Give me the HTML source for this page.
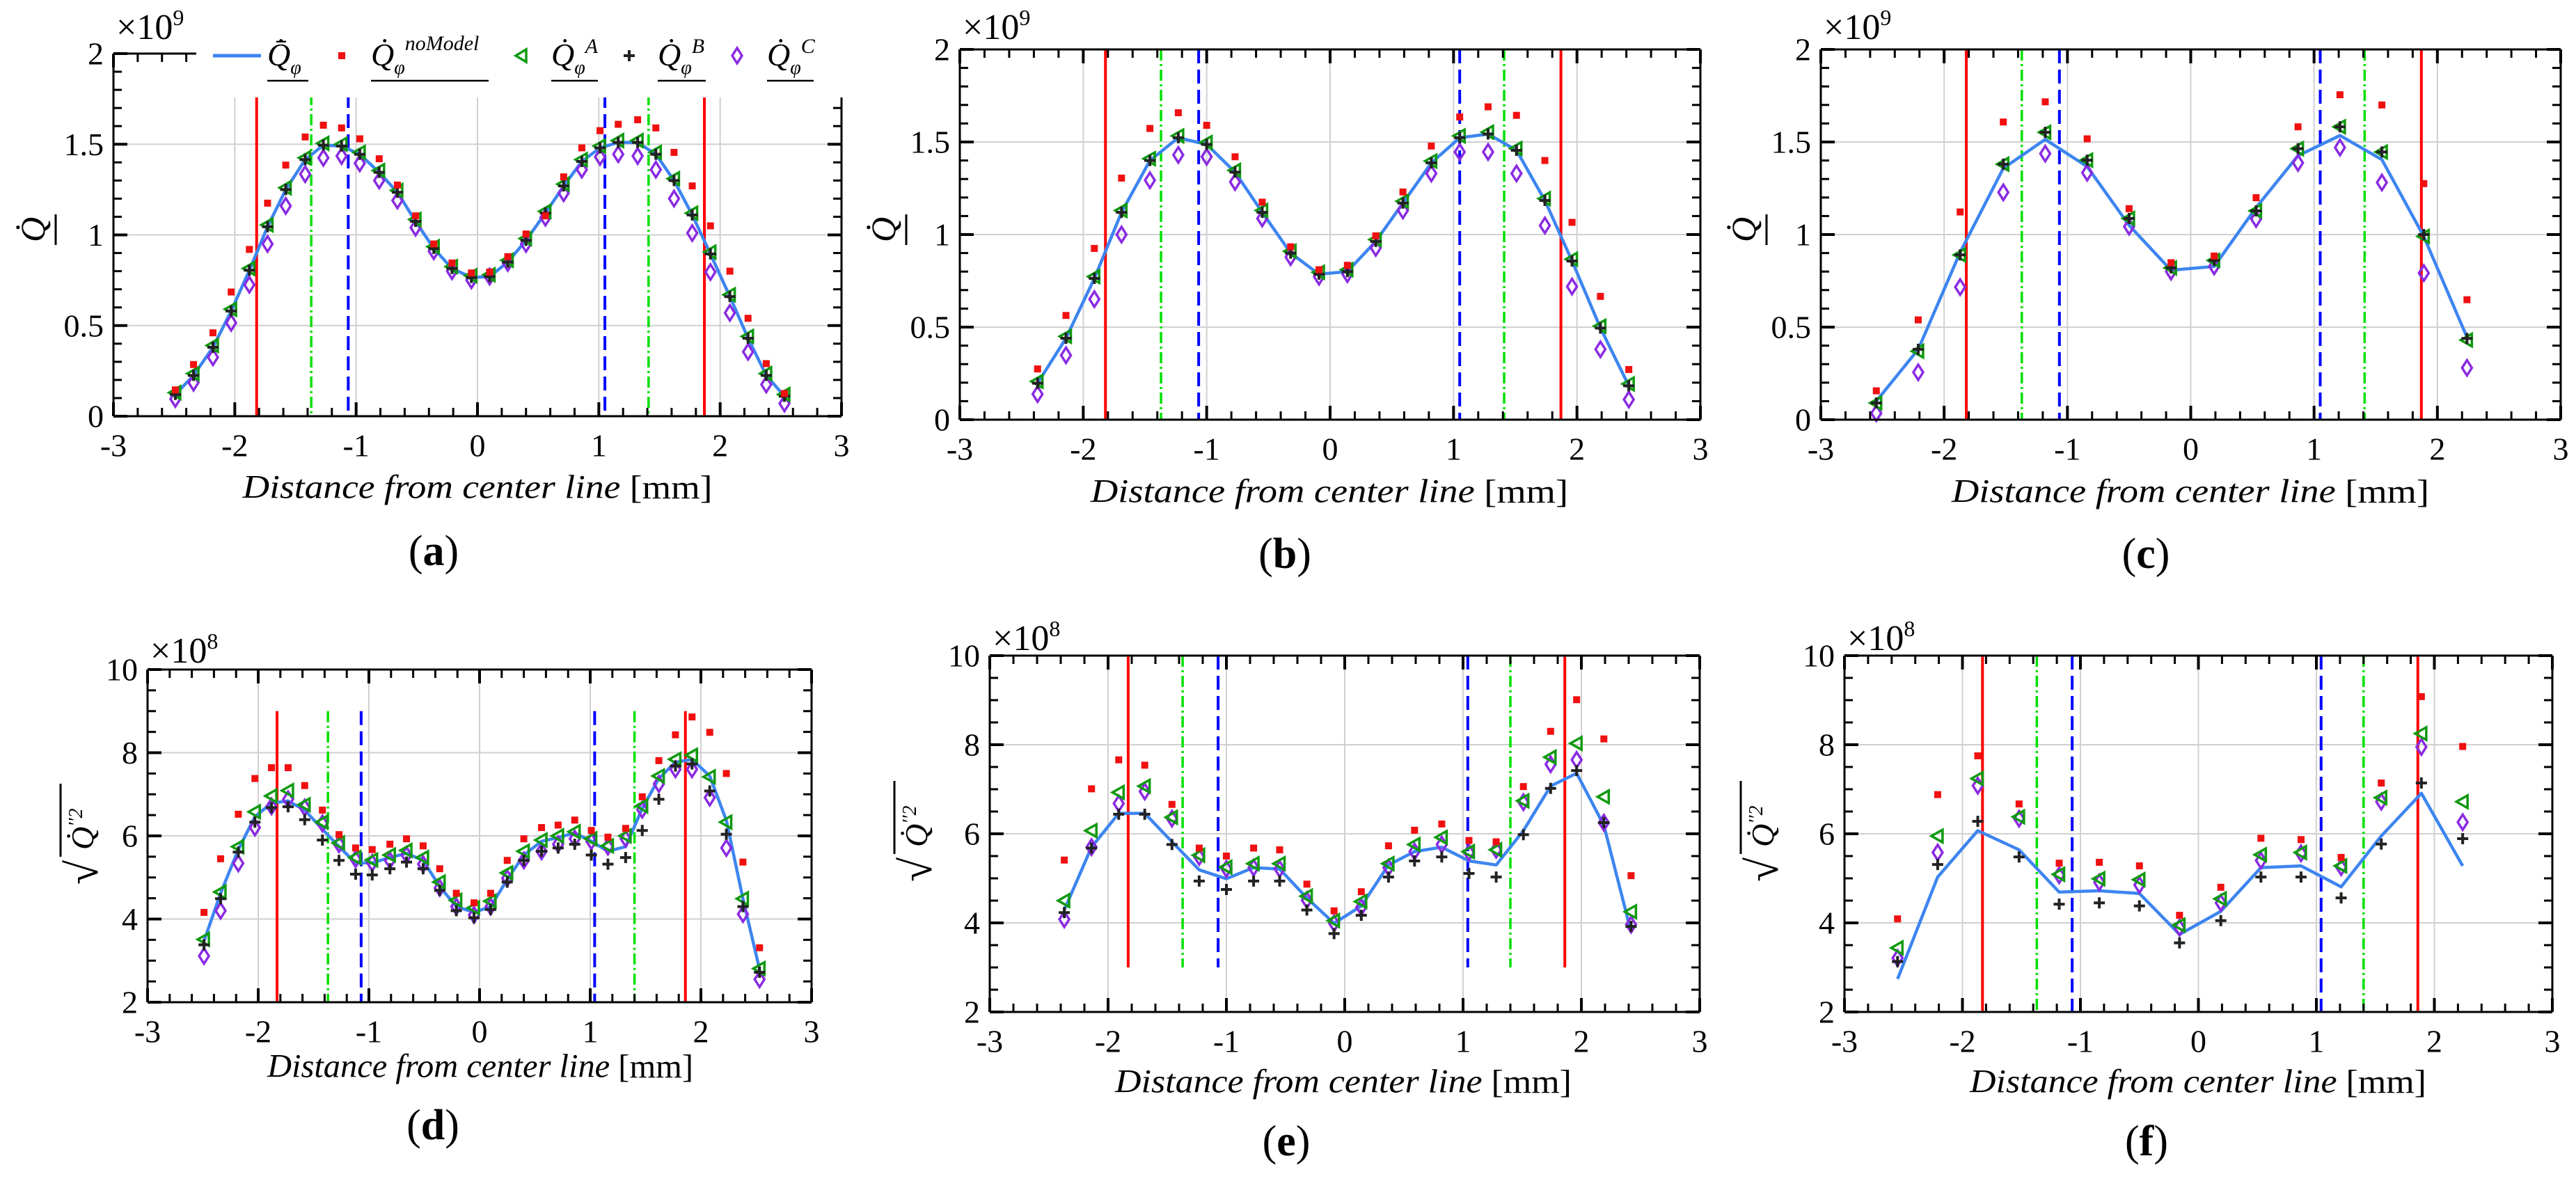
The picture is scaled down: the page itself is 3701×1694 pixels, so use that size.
<!DOCTYPE html>
<html><head><meta charset="utf-8">
<style>
html,body{margin:0;padding:0;background:#fff;}
svg{display:block;}
text{font-family:"Liberation Serif",serif;fill:#000;}
</style></head>
<body>
<svg id="fig" width="3701" height="1694" viewBox="0 0 3701 1694" xmlns="http://www.w3.org/2000/svg"></svg>
<script>
// ---------- DATA ----------
const xA = [-2.49,-2.34,-2.18,-2.03,-1.88,-1.73,-1.58,-1.42,-1.27,-1.12,-0.97,-0.81,-0.66,-0.51,-0.36,-0.21,-0.05,0.10,0.25,0.40,0.56,0.71,0.86,1.01,1.16,1.32,1.47,1.62,1.77,1.92,2.08,2.23,2.38,2.53];
const xB = [-2.37,-2.14,-1.91,-1.69,-1.46,-1.23,-1.00,-0.77,-0.55,-0.32,-0.09,0.14,0.37,0.59,0.82,1.05,1.28,1.51,1.74,1.96,2.19,2.42];
const xC = [-2.55,-2.21,-1.87,-1.52,-1.18,-0.84,-0.50,-0.16,0.19,0.53,0.87,1.21,1.55,1.89,2.24];

const aMean = [0.12,0.225,0.38,0.58,0.805,1.045,1.25,1.415,1.495,1.49,1.445,1.345,1.235,1.075,0.925,0.815,0.765,0.77,0.85,0.97,1.12,1.27,1.405,1.48,1.51,1.51,1.445,1.30,1.11,0.895,0.66,0.43,0.225,0.11];
const aNoModel = [0.145,0.285,0.46,0.685,0.92,1.175,1.385,1.54,1.605,1.59,1.53,1.42,1.275,1.105,0.95,0.845,0.79,0.795,0.88,1.005,1.105,1.32,1.48,1.575,1.61,1.635,1.59,1.455,1.27,1.05,0.80,0.54,0.29,0.125];
const aA = [0.13,0.235,0.39,0.59,0.815,1.055,1.26,1.425,1.505,1.50,1.455,1.355,1.245,1.085,0.935,0.825,0.775,0.78,0.86,0.98,1.13,1.28,1.415,1.49,1.52,1.52,1.455,1.31,1.12,0.905,0.67,0.44,0.235,0.12];
const aB = [0.12,0.225,0.38,0.58,0.805,1.045,1.25,1.415,1.495,1.49,1.445,1.345,1.235,1.075,0.925,0.815,0.765,0.77,0.85,0.97,1.12,1.27,1.405,1.48,1.51,1.51,1.445,1.30,1.11,0.895,0.66,0.43,0.225,0.11];
const aC = [0.095,0.185,0.325,0.515,0.725,0.95,1.16,1.335,1.425,1.435,1.395,1.30,1.19,1.04,0.91,0.80,0.75,0.77,0.845,0.95,1.095,1.23,1.36,1.43,1.445,1.435,1.36,1.20,1.01,0.795,0.57,0.355,0.175,0.07];

const bMean = [0.197,0.44,0.763,1.12,1.40,1.523,1.487,1.337,1.12,0.90,0.786,0.80,0.963,1.17,1.387,1.523,1.543,1.455,1.184,0.857,0.495,0.183];
const bNoModel = [0.274,0.563,0.925,1.305,1.573,1.658,1.59,1.42,1.175,0.934,0.81,0.834,0.993,1.23,1.478,1.635,1.69,1.644,1.40,1.066,0.666,0.271];
const bA = [0.207,0.45,0.773,1.13,1.41,1.533,1.497,1.347,1.13,0.91,0.796,0.81,0.973,1.18,1.397,1.533,1.553,1.465,1.194,0.867,0.505,0.193];
const bB = [0.197,0.44,0.763,1.12,1.40,1.523,1.487,1.337,1.12,0.90,0.786,0.80,0.963,1.17,1.387,1.523,1.543,1.455,1.184,0.857,0.495,0.183];
const bC = [0.138,0.348,0.651,1.0,1.293,1.43,1.42,1.284,1.087,0.878,0.772,0.786,0.928,1.13,1.33,1.446,1.446,1.33,1.049,0.719,0.38,0.109];

const cMean = [0.10,0.38,0.904,1.358,1.514,1.367,1.05,0.807,0.828,1.146,1.426,1.535,1.405,0.99,0.445];
const cNoModel = [0.156,0.539,1.122,1.608,1.717,1.517,1.14,0.848,0.884,1.199,1.582,1.755,1.70,1.275,0.648];
const cA = [0.09,0.37,0.89,1.38,1.552,1.402,1.087,0.82,0.86,1.128,1.464,1.582,1.446,0.99,0.43];
const cB = [0.09,0.38,0.89,1.38,1.552,1.402,1.087,0.82,0.86,1.128,1.464,1.582,1.446,1.0,0.439];
const cC = [0.035,0.256,0.716,1.228,1.437,1.334,1.043,0.80,0.828,1.084,1.387,1.47,1.281,0.792,0.28];

const dMean = [3.47,4.62,5.67,6.46,6.79,6.84,6.62,6.16,5.74,5.35,5.35,5.48,5.58,5.41,4.78,4.30,4.16,4.30,4.95,5.54,5.87,5.96,6.07,5.87,5.63,5.74,6.66,7.38,7.77,7.84,7.44,6.37,4.49,2.79];
const dNoModel = [4.16,5.45,6.52,7.38,7.64,7.64,7.21,6.62,6.03,5.71,5.67,5.80,5.93,5.76,5.21,4.62,4.39,4.62,5.41,5.93,6.20,6.26,6.38,6.13,5.97,6.18,6.94,7.81,8.43,8.86,8.49,7.50,5.37,3.31];
const dA = [3.51,4.65,5.74,6.58,6.96,7.09,6.75,6.33,5.83,5.48,5.42,5.54,5.65,5.48,4.89,4.45,4.27,4.43,5.11,5.63,5.90,6.0,6.10,5.93,5.76,6.0,6.72,7.44,7.84,7.94,7.42,6.33,4.49,2.81];
const dB = [3.38,4.49,5.61,6.33,6.68,6.70,6.39,5.90,5.41,5.08,5.06,5.21,5.37,5.21,4.69,4.20,4.03,4.23,4.89,5.41,5.63,5.71,5.80,5.54,5.32,5.48,6.13,6.88,7.68,7.73,7.08,6.04,4.30,2.72];
const dC = [3.11,4.20,5.34,6.20,6.71,6.88,6.68,6.30,5.80,5.44,5.35,5.41,5.54,5.32,4.75,4.30,4.10,4.30,4.98,5.41,5.63,5.80,5.93,5.87,5.74,5.93,6.63,7.25,7.60,7.60,6.92,5.71,4.12,2.55];

const eMean = [4.29,5.70,6.46,6.46,5.82,5.19,4.99,5.24,5.21,4.56,3.99,4.38,5.30,5.60,5.70,5.39,5.30,6.07,7.07,7.36,6.19,3.80];
const eNoModel = [5.41,7.01,7.66,7.54,6.66,5.68,5.50,5.68,5.64,4.87,4.27,4.70,5.73,6.08,6.22,5.85,5.82,7.06,8.30,9.01,8.13,5.06];
const eA = [4.50,6.07,6.93,7.07,6.37,5.52,5.25,5.33,5.33,4.60,4.05,4.48,5.33,5.76,5.92,5.60,5.64,6.74,7.72,8.03,6.83,4.25];
const eB = [4.23,5.68,6.44,6.44,5.76,4.94,4.75,4.94,4.94,4.29,3.76,4.17,5.03,5.39,5.48,5.11,5.03,5.98,7.02,7.42,6.25,3.92];
const eC = [4.08,5.70,6.68,6.95,6.34,5.48,5.21,5.24,5.21,4.51,3.99,4.35,5.24,5.60,5.76,5.58,5.64,6.71,7.56,7.66,6.25,3.96];

const fMean = [2.74,5.03,6.07,5.64,4.69,4.72,4.66,3.74,4.26,5.24,5.28,4.81,5.95,6.91,5.28];
const fNoModel = [4.09,6.88,7.75,6.67,5.34,5.36,5.28,4.17,4.80,5.90,5.87,5.47,7.14,9.08,7.96];
const fA = [3.44,5.95,7.24,6.38,5.09,4.99,4.97,3.95,4.54,5.53,5.58,5.28,6.81,8.25,6.72];
const fB = [3.13,5.31,6.28,5.48,4.42,4.45,4.38,3.55,4.05,5.03,5.03,4.56,5.77,7.14,5.89];
const fC = [3.21,5.58,7.08,6.34,5.07,4.91,4.85,3.89,4.45,5.40,5.56,5.25,6.72,7.95,6.26];

const redLinesTop = [-1.82,1.87];
const greenLinesTop = [-1.37,1.41];
const blueLinesTop = [-1.065,1.05];
const redLinesBot = [-1.83,1.86];
const greenLinesBot = [-1.37,1.40];
const blueLinesBot = [-1.07,1.04];

const xTicks = [-3,-2,-1,0,1,2,3];
const xTickLabels = ["-3","-2","-1","0","1","2","3"];
const yTicksTop = [0,0.5,1,1.5,2];
const yTickLabelsTop = ["0","0.5","1","1.5","2"];
const yTicksBot = [2,4,6,8,10];
const yTickLabelsBot = ["2","4","6","8","10"];

// ---------- DRAWING ----------
const NS = "http://www.w3.org/2000/svg";
const svgEl = document.getElementById('fig');
function mk(tag, attrs, parent){
  const e = document.createElementNS(NS, tag);
  for (const k in attrs) e.setAttribute(k, attrs[k]);
  (parent||svgEl).appendChild(e);
  return e;
}

function panel(p){
  const g = mk('g', {});
  
  
  const sx = v => p.L + (v - (-3)) / 6 * (p.R - p.L);
  const sy = v => p.B - (v - p.y0) / (p.y1 - p.y0) * (p.B - p.T);

  const grid = mk('g', {stroke:'#d0d0d0','stroke-width':2}, g);
  
  
  xTicks.forEach(t => { if (t > -3 && t < 3) mk('line', {x1:sx(t), x2:sx(t), y1:p.T, y2:p.B}, grid); });
  p.yTicks.forEach(t => { if (t > p.y0 && t < p.y1) mk('line', {x1:p.L, x2:p.R, y1:sy(t), y2:sy(t)}, grid); });

  const vl = (xs, color, dash, w, name) => xs.forEach((v, i) => {
    const l = mk('line', {x1:sx(v), x2:sx(v), y1:sy(p.vTop), y2:sy(p.vBot), stroke:color, 'stroke-width':w, 'stroke-dasharray':dash}, g);
    
    
  });
  vl(p.red, '#ff0000', 'none', 4, 'red-boundary-line');
  vl(p.green, '#00e000', '16,5,3,5', 3.5, 'green-dashdot-line');
  vl(p.blue, '#0000ff', '20,9', 4, 'blue-dashed-line');

  const pts = p.x.map((v, i) => sx(v).toFixed(1) + ',' + sy(p.mean[i]).toFixed(1)).join(' ');
  const ml = mk('polyline', {points:pts, fill:'none', stroke:'#3d85f0', 'stroke-width':4.5, 'stroke-linejoin':'round'}, g);
  
  

  p.x.forEach((v, i) => {
    const X = sx(v);
    let Y = sy(p.C[i]);
    const d = mk('polygon', {points:`${X},${Y-11} ${X+7},${Y} ${X},${Y+11} ${X-7},${Y}`, fill:'none', stroke:'#8a2be2', 'stroke-width':3.5}, g);
    
    
    Y = sy(p.A[i]);
    const t = mk('polygon', {points:`${X-9},${Y} ${X+7},${Y-9} ${X+7},${Y+9}`, fill:'none', stroke:'#109a10', 'stroke-width':3.5}, g);
    
    
    Y = sy(p.Bv[i]);
    const pl = mk('path', {d:`M${X-8},${Y}H${X+8}M${X},${Y-8}V${Y+8}`, stroke:'#222', 'stroke-width':4}, g);
    
    
    Y = sy(p.nm[i]);
    const r = mk('rect', {x:X-5, y:Y-5, width:10, height:10, fill:'#f01010'}, g);
    
    
  });

  if (p.legend) {
    const cover = mk('rect', {x:282, y:0, width:950, height:140, fill:'#fff'}, g);
    
    
  }

  const ax = mk('g', {stroke:'#000', 'stroke-width':3, fill:'none'}, g);
  
  
  const topEnd = p.legend ? 282 : p.R;
  mk('line', {x1:p.L, x2:p.R, y1:p.B, y2:p.B}, ax);
  mk('line', {x1:p.L, x2:p.L, y1:p.T, y2:p.B}, ax);
  mk('line', {x1:p.L, x2:topEnd, y1:p.T, y2:p.T}, ax);
  mk('line', {x1:p.R, x2:p.R, y1:p.legend ? 140 : p.T, y2:p.B}, ax);
  for (let k = 0; k <= 30; k++) {
    const v = -3 + k * 0.2;
    const X = sx(v);
    const major = (k % 5 === 0);
    const len = major ? 20 : 12;
    mk('line', {x1:X, x2:X, y1:p.B, y2:p.B - len, 'stroke-width': major ? 4 : 3}, ax);
    if (!p.legend || X < 282) mk('line', {x1:X, x2:X, y1:p.T, y2:p.T + len, 'stroke-width': major ? 4 : 3}, ax);
  }
  const nMinor = Math.round((p.y1 - p.y0) / p.minor);
  for (let k = 0; k <= nMinor; k++) {
    const v = p.y0 + k * p.minor;
    const Y = sy(v);
    const major = p.yTicks.some(t => Math.abs(t - v) < 1e-6);
    const len = major ? 20 : 12;
    mk('line', {x1:p.L, x2:p.L + len, y1:Y, y2:Y, 'stroke-width': major ? 4 : 3}, ax);
    if (!p.legend || Y > 140) mk('line', {x1:p.R, x2:p.R - len, y1:Y, y2:Y, 'stroke-width': major ? 4 : 3}, ax);
  }

  xTicks.forEach((t, i) => {
    const tx = mk('text', {x:sx(t), y:p.B + 42, 'font-size':46, 'text-anchor':'middle', 'dominant-baseline':'central'}, g);
    tx.textContent = xTickLabels[i];
    
    
  });
  p.yTicks.forEach((t, i) => {
    const tx = mk('text', {x:p.L - 14, y:sy(t), 'font-size':46, 'text-anchor':'end', 'dominant-baseline':'central'}, g);
    tx.textContent = p.yLabels[i];
    
    
  });
  const ex = mk('text', {x:p.L + 4, y:p.expY + 17, 'font-size':52}, g);
  
  
  ex.innerHTML = '×10<tspan dy="-20" font-size="32">' + p.exp + '</tspan>';

  const xl = mk('text', {x:p.xlX, y:p.xlY, 'font-size':48, 'font-style':'italic', 'text-anchor':'middle', 'dominant-baseline':'central', textLength:p.xlW, lengthAdjust:'spacingAndGlyphs'}, g);
  
  
  xl.innerHTML = 'Distance from center line <tspan font-style="normal">[mm]</tspan>';

  const yt = mk('g', {transform:`translate(${p.ylX},${p.ylY}) rotate(-90)`}, g);
  
  
  if (p.sqrt) {
    const s = mk('text', {x:-70, y:18, 'font-size':64}, yt); s.textContent = '√';
    mk('line', {x1:-30, x2:75, y1:-35, y2:-35, stroke:'#000', 'stroke-width':3}, yt);
    const q = mk('text', {x:-20, y:12, 'font-size':46, 'font-style':'italic'}, yt);
    q.innerHTML = 'Q̇<tspan dy="-16" font-size="28">′′2</tspan>';
  } else {
    const q = mk('text', {x:-18, y:14, 'font-size':50, 'font-style':'italic'}, yt); q.textContent = 'Q̇';
    mk('line', {x1:-22, x2:22, y1:30, y2:30, stroke:'#000', 'stroke-width':3}, yt);
  }

  const pl = mk('text', {x:p.letX, y:p.letY, 'font-size':62, 'text-anchor':'middle', 'dominant-baseline':'central'}, g);
  
  
  pl.innerHTML = '(<tspan font-weight="bold">' + p.id + '</tspan>)';
}

const topCfg = {y0:0, y1:2, yTicks:yTicksTop, yLabels:yTickLabelsTop, minor:0.1, exp:'9', vTop:2, vBot:0, red:redLinesTop, green:greenLinesTop, blue:blueLinesTop};
const botCfg = {y0:2, y1:10, yTicks:yTicksBot, yLabels:yTickLabelsBot, minor:0.5, exp:'8', sqrt:true, red:redLinesBot, green:greenLinesBot, blue:blueLinesBot};

panel(Object.assign({}, topCfg, {id:'a', L:163, R:1209, T:77, B:598, legend:true, x:xA, mean:aMean, nm:aNoModel, A:aA, Bv:aB, C:aC, expY:39, xlX:686, xlY:700, xlW:675, ylX:50, ylY:330, letX:623, letY:792}));
panel(Object.assign({}, topCfg, {id:'b', L:1379, R:2443, T:71, B:603, x:xB, mean:bMean, nm:bNoModel, A:bA, Bv:bB, C:bC, expY:39, xlX:1910, xlY:706, xlW:686, ylX:1272, ylY:330, letX:1846, letY:796}));
panel(Object.assign({}, topCfg, {id:'c', L:2616, R:3679, T:71, B:603, x:xC, mean:cMean, nm:cNoModel, A:cA, Bv:cB, C:cC, expY:39, xlX:3147, xlY:706, xlW:686, ylX:2508, ylY:330, letX:3083, letY:796}));
panel(Object.assign({}, botCfg, {id:'d', L:212, R:1166, T:962, B:1440, vTop:9, vBot:2, x:xA, mean:dMean, nm:dNoModel, A:dA, Bv:dB, C:dC, expY:935, xlX:690, xlY:1532, xlW:612, ylX:122, ylY:1201, letX:622, letY:1617}));
panel(Object.assign({}, botCfg, {id:'e', L:1422, R:2442, T:942, B:1454, vTop:10, vBot:3, x:xB, mean:eMean, nm:eNoModel, A:eA, Bv:eB, C:eC, expY:917, xlX:1930, xlY:1554, xlW:656, ylX:1320, ylY:1197, letX:1848, letY:1640}));
panel(Object.assign({}, botCfg, {id:'f', L:2650, R:3667, T:942, B:1454, vTop:10, vBot:2, x:xC, mean:fMean, nm:fNoModel, A:fA, Bv:fB, C:fC, expY:917, xlX:3158, xlY:1554, xlW:656, ylX:2536, ylY:1197, letX:3084, letY:1640}));

// ---------- LEGEND (panel a) ----------
const lg = mk('g', {});


const ly = 80;
const ls = mk('line', {x1:306, x2:375, y1:ly, y2:ly, stroke:'#3d85f0', 'stroke-width':5}, lg);


const rsw = mk('rect', {x:486, y:ly-5, width:10, height:10, fill:'#f01010'}, lg);


const tsw = mk('polygon', {points:`741,${ly} 756,${ly-9} 756,${ly+9}`, fill:'none', stroke:'#109a10', 'stroke-width':3.5}, lg);


const psw = mk('path', {d:`M896,${ly}H912M904,${ly-8}V${ly+8}`, stroke:'#222', 'stroke-width':4}, lg);


const dsw = mk('polygon', {points:`1059,${ly-11} 1066,${ly} 1059,${ly+11} 1052,${ly}`, fill:'none', stroke:'#8a2be2', 'stroke-width':3.5}, lg);


const entries = [
  {x:384, w:59, html:'Q̄̇<tspan dy="12" font-size="28">φ</tspan>', name:'legend-mean-label'},
  {x:533, w:169, html:'Q̇<tspan dy="12" font-size="28">φ</tspan><tspan dy="-34" font-size="30">noModel</tspan>', name:'legend-nomodel-label'},
  {x:792, w:67, html:'Q̇<tspan dy="12" font-size="28">φ</tspan><tspan dy="-30" font-size="30">A</tspan>', name:'legend-a-label'},
  {x:945, w:69, html:'Q̇<tspan dy="12" font-size="28">φ</tspan><tspan dy="-30" font-size="30">B</tspan>', name:'legend-b-label'},
  {x:1102, w:67, html:'Q̇<tspan dy="12" font-size="28">φ</tspan><tspan dy="-30" font-size="30">C</tspan>', name:'legend-c-label'}
];
entries.forEach(e => {
  const t = mk('text', {x:e.x, y:ly+14, 'font-size':46, 'font-style':'italic'}, lg);
  t.innerHTML = e.html;
  
  
  mk('line', {x1:e.x, x2:e.x+e.w, y1:116, y2:116, stroke:'#000', 'stroke-width':2.5}, lg);
});
</script>
</body></html>
